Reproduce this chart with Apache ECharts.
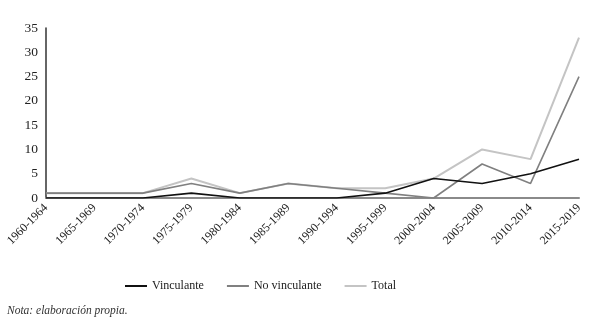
<!DOCTYPE html>
<html>
<head>
<meta charset="utf-8">
<script src="https://cdn.jsdelivr.net/npm/echarts@6/dist/echarts.min.js"></script>
<style>html,body{margin:0;padding:0;background:#fff}#c{width:600px;height:323px}</style>
</head>
<body>
<div id="c"></div>
<script>
const categories = ['1960-1964','1965-1969','1970-1974','1975-1979','1980-1984','1985-1989','1990-1994','1995-1999','2000-2004','2005-2009','2010-2014','2015-2019'];
const vinculante = [0,0,0,1,0,0,0,1,4,3,5,8];
const noVinculante = [1,1,1,3,1,3,2,1,0,7,3,25];
const total = [1,1,1,4,1,3,2,2,4,10,8,33];
const yTicks = [0,5,10,15,20,25,30,35];
const FONT = 'Liberation Serif';

const chart = echarts.init(document.getElementById('c'));
chart.setOption({
  animation: false,
  backgroundColor: '#fff',
  grid: { left: 46, right: 21, top: 28, bottom: 125, containLabel: false, outerBoundsMode: 'none' },
  xAxis: {
    type: 'category', data: categories, boundaryGap: false,
    axisLine: { lineStyle: { color: '#8a8a8a', width: 2 } },
    axisTick: { show: false },
    axisLabel: { rotate: 45, margin: 8, fontFamily: FONT, fontSize: 12, color: '#222', interval: 0 }
  },
  yAxis: {
    type: 'value', min: yTicks[0], max: yTicks[yTicks.length-1], interval: 5,
    axisLine: { show: true, lineStyle: { color: '#333', width: 1.5 } },
    axisTick: { show: false },
    splitLine: { show: false },
    axisLabel: { fontFamily: FONT, fontSize: 13.5, color: '#222', margin: 8 }
  },
  legend: {
    top: 275, left: 120,
    icon: 'rect', itemWidth: 22, itemHeight: 2, itemGap: 23,
    textStyle: { fontFamily: FONT, fontSize: 12, color: '#222' },
    data: ['Vinculante','No vinculante','Total']
  },
  series: [
    { name: 'Total', type: 'line', data: total, showSymbol: false, z: 1,
      lineStyle: { color: '#c4c4c4', width: 2 }, itemStyle: { color: '#c4c4c4' } },
    { name: 'No vinculante', type: 'line', data: noVinculante, showSymbol: false, z: 2,
      lineStyle: { color: '#808080', width: 1.6 }, itemStyle: { color: '#808080' } },
    { name: 'Vinculante', type: 'line', data: vinculante, showSymbol: false, z: 3,
      lineStyle: { color: '#111', width: 1.6 }, itemStyle: { color: '#111' } }
  ],
  graphic: [{
    type: 'text', left: 7, top: 305,
    style: { text: 'Nota: elaboración propia.', fontFamily: FONT, fontStyle: 'italic', fontSize: 11.5, fill: '#333' }
  }]
});
</script>
</body>
</html>
